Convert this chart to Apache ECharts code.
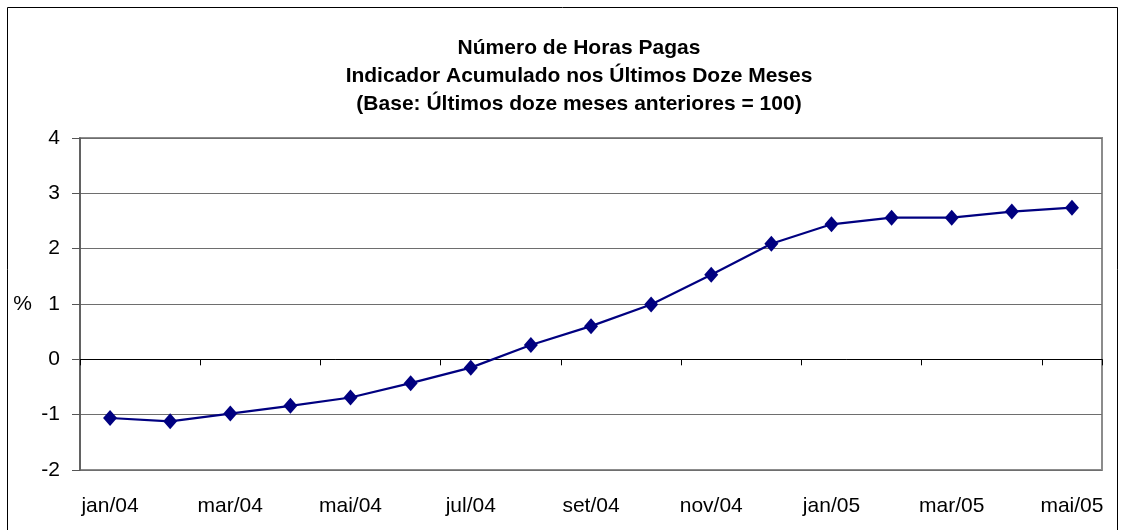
<!DOCTYPE html>
<html>
<head>
<meta charset="utf-8">
<script src="https://cdn.jsdelivr.net/npm/echarts@6/dist/echarts.min.js"></script>
<style>
  html, body { margin: 0; padding: 0; background: #fff; }
  #chart { width: 1125px; height: 530px; }
</style>
</head>
<body>
<div id="chart"></div>
<script>
// meses (jan/04 a mai/05)
const months = ['jan/04', 'fev/04', 'mar/04', 'abr/04', 'mai/04', 'jun/04', 'jul/04', 'ago/04',
  'set/04', 'out/04', 'nov/04', 'dez/04', 'jan/05', 'fev/05', 'mar/05', 'abr/05', 'mai/05']
// indicador acumulado em 12 meses (%)
const horasPagas = [-1.06, -1.12, -0.98, -0.84, -0.69, -0.43, -0.15, 0.26, 0.60, 0.99, 1.53,
  2.09, 2.44, 2.56, 2.56, 2.67, 2.74]
const yTicks = { min: -2, max: 4, interval: 1 }

const titleLines = [
  'Número de Horas Pagas',
  'Indicador Acumulado nos Últimos Doze Meses',
  '(Base: Últimos doze meses anteriores = 100)'
]

const font = '"Liberation Sans", Arial, sans-serif'
const chart = echarts.init(document.getElementById('chart'))

const option = {
  animation: false,
  textStyle: { fontFamily: font },
  title: {
    text: titleLines.join('\n'),
    left: 574,
    top: 29,
    textAlign: 'center',
    textStyle: { fontFamily: font, fontSize: 21, fontWeight: 'bold', lineHeight: 28, color: '#000' }
  },
  graphic: [
    // moldura externa
    { type: 'rect', shape: { x: 7.5, y: 7.5, width: 1110, height: 540 },
      style: { fill: null, stroke: '#000', lineWidth: 1 }, silent: true }
  ],
  grid: {
    left: 80, right: 23, top: 138, bottom: 60,
    show: true, borderColor: '#8c8c8c', borderWidth: 2, backgroundColor: '#fff'
  },
  xAxis: [
    {
      // rótulos embaixo
      type: 'category',
      data: months,
      position: 'bottom',
      boundaryGap: true,
      axisLine: { show: false, onZero: false },
      axisTick: { show: false },
      axisLabel: { interval: 1, margin: 26, fontSize: 21, color: '#000', fontFamily: font },
      splitLine: { show: false }
    },
    {
      // eixo no zero com marcas
      type: 'category',
      data: months,
      position: 'top',
      boundaryGap: true,
      axisLine: { show: true, onZero: true, lineStyle: { color: '#000', width: 1 } },
      axisTick: { show: true, interval: 1, inside: true, length: 6, lineStyle: { color: '#000' } },
      axisLabel: { show: false },
      splitLine: { show: false }
    }
  ],
  yAxis: {
    type: 'value',
    min: yTicks.min,
    max: yTicks.max,
    interval: yTicks.interval,
    name: '%',
    nameLocation: 'middle',
    nameRotate: 0,
    nameGap: 48,
    nameTextStyle: { fontSize: 21, color: '#000', fontFamily: font },
    axisLine: { show: true, lineStyle: { color: '#555', width: 1.5 } },
    axisTick: { show: true, length: 8, lineStyle: { color: '#555' } },
    axisLabel: { margin: 20, fontSize: 21, color: '#000', fontFamily: font },
    splitLine: { show: true, lineStyle: { color: '#6e6e6e', width: 1 } }
  },
  series: [
    {
      type: 'line',
      data: horasPagas,
      xAxisIndex: 0,
      symbol: 'diamond',
      symbolSize: [14, 16],
      lineStyle: { color: '#000080', width: 2.2 },
      itemStyle: { color: '#000080' },
      z: 5
    }
  ]
}

chart.setOption(option)
</script>
</body>
</html>
